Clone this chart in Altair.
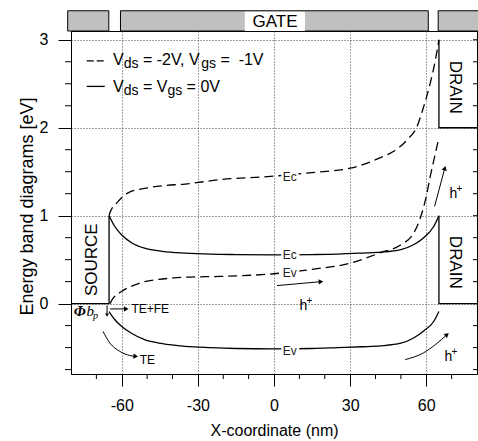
import altair as alt
import pandas as pd

# ---------------- values ----------------
# conduction / valence band edges (eV) vs position (nm)
ec0_x = [-65, -62.8, -60, -56, -51, -44, -35, -25, -15, 0, 15, 25, 35, 42, 50, 55, 59, 63, 65]
ec0_y = [1.0, 0.88, 0.78, 0.69, 0.63, 0.595, 0.575, 0.563, 0.558, 0.555, 0.558, 0.563, 0.575, 0.585, 0.615, 0.67, 0.75, 0.88, 1.0]
ev0_x = [-65, -62.8, -60, -56, -51, -44, -35, -25, -15, 0, 15, 25, 35, 42, 50, 55, 59, 63, 65]
ev0_y = [-0.09, -0.18, -0.26, -0.34, -0.41, -0.455, -0.485, -0.50, -0.51, -0.515, -0.51, -0.50, -0.49, -0.48, -0.45, -0.39, -0.31, -0.2, -0.09]
ec1_x = [-65, -64.7, -61.5, -57.5, -51, -44, -35, -21, 0, 15, 30, 42, 47, 52.4, 56.3, 59, 61.6, 63.6, 65]
ec1_y = [1.0, 1.03, 1.16, 1.26, 1.31, 1.34, 1.36, 1.41, 1.45, 1.49, 1.54, 1.66, 1.73, 1.86, 2.01, 2.24, 2.51, 2.77, 3.0]
ev1_x = [-64.5, -64.1, -60, -56, -51, -44, -35, -21, 0, 15, 30, 42, 50, 55, 58.5, 60, 61.6, 63.6, 65]
ev1_y = [0.0, 0.03, 0.14, 0.2, 0.25, 0.28, 0.30, 0.31, 0.34, 0.39, 0.46, 0.58, 0.67, 0.80, 1.05, 1.22, 1.45, 1.71, 1.89]

# contact outlines (source / drain)
struct_id = ["src", "src", "src", "dt", "dt", "dt", "db", "db", "db"]
struct_x = [-80, -65, -65, 65, 65, 80, 65, 65, 80]
struct_y = [0, 0, 1, 3, 2, 2, 1, 0, 0]

# gray electrode boxes above the plot (source contact, gate, drain contact)
box_x0 = [-81.3, -60.5, 64.7]
box_x1 = [-65.1, 60.8, 82]

# axis ticks
x_major = [-60, -30, 0, 30, 60]
x_minor = [-70, -50, -40, -20, -10, 10, 20, 40, 50, 70]
y_major = [0, 1, 2, 3]
y_minor = [-0.75, -0.5, -0.25, 0.25, 0.5, 0.75, 1.25, 1.5, 1.75, 2.25, 2.5, 2.75]

# arrows (polyline points) and their head angles
arrows = {
    "mid": ([1.2, 18.5], [0.205, 0.25], 355),
    "ur": ([63.3, 67.3], [1.106, 1.54], 285),
    "lr": ([51.7, 58.9, 63.6, 68.2], [-0.636, -0.56, -0.466, -0.352], 320),
    "te": ([-67.4, -64.7, -60.8, -56.8, -54.5], [-0.315, -0.447, -0.542, -0.59, -0.6], 5),
    "tefe": ([-64.7, -58.2], [-0.06, -0.06], 0),
}

FONT = "Liberation Sans"
W, H = 406, 343
XS = alt.Scale(domain=[-80, 80], nice=False, zero=False)
YS = alt.Scale(domain=[-0.8, 3.1], nice=False, zero=False)


def X(f="x"):
    return alt.X(f"{f}:Q", scale=XS)


def Y(f="y"):
    return alt.Y(f"{f}:Q", scale=YS)


def txt(x, y, s, size=12, align="center", baseline="middle", angle=0, dx=0, dy=0,
        font=FONT, style="normal", weight="normal", color="black", halo=False):
    df = pd.DataFrame({"x": [x], "y": [y], "t": [s]})
    kw = dict(align=align, baseline=baseline, dx=dx, dy=dy, font=font, fontSize=size,
              fontStyle=style, fontWeight=weight)
    if angle:
        kw["angle"] = angle
    if halo:
        kw.update(fill="white", stroke="white", strokeWidth=5)
    else:
        kw.update(fill=color)
    return alt.Chart(df).mark_text(**kw).encode(x=X(), y=Y(), text="t:N")


layers = []

# ---- axes carrier ----
axis_df = pd.DataFrame({"x": [0], "y": [0]})
x_axis = alt.Axis(
    values=x_major, labelExpr="'' + datum.value",
    tickSize=12, grid=True, gridDash=[1, 2], gridColor="#444", gridWidth=1,
    tickColor="black", domainColor="black", labelColor="black",
    labelFont=FONT, labelFontSize=16, labelPadding=11,
    title="X-coordinate (nm)", titleFont=FONT, titleFontSize=16, titleFontWeight="normal",
    titleColor="black", titleX=203, titleY=56, titleBaseline="middle", titleAlign="center",
)
y_axis = alt.Axis(
    values=y_major, labelExpr="'' + datum.value",
    tickSize=13, grid=True, gridDash=[1, 2], gridColor="#444", gridWidth=1,
    tickColor="black", domainColor="black", labelColor="black",
    labelFont=FONT, labelFontSize=16, labelPadding=10,
    title="Energy band diagrams [eV]", titleFont=FONT, titleFontSize=18, titleFontWeight="normal",
    titleColor="black", titleX=-44, titleY=175, titleAngle=270, titleBaseline="middle",
    titleAlign="center",
)
layers.append(alt.Chart(axis_df).mark_point(opacity=0).encode(
    x=alt.X("x:Q", scale=XS, axis=x_axis), y=alt.Y("y:Q", scale=YS, axis=y_axis)))

# ---- minor ticks (outside) and inner ticks on the right edge ----
ym_df = pd.DataFrame({"y": y_minor})
layers.append(alt.Chart(ym_df).mark_rule(color="black", strokeWidth=1).encode(
    y=Y(), x=alt.value(-6), x2=alt.value(0)))
xm_df = pd.DataFrame({"x": x_minor})
layers.append(alt.Chart(xm_df).mark_rule(color="black", strokeWidth=1).encode(
    x=X(), y=alt.value(H), y2=alt.value(H + 5)))
yr_df = pd.DataFrame({"y": y_minor + y_major})
layers.append(alt.Chart(yr_df).mark_rule(color="black", strokeWidth=1).encode(
    y=Y(), x=alt.value(W - 4), x2=alt.value(W)))

# ---- electrode boxes ----
box_df = pd.DataFrame({"x": box_x0, "x2": box_x1, "y": [3.1] * 3, "y2": [3.33] * 3})
layers.append(alt.Chart(box_df).mark_rect(fill="#c0c0c0", stroke="black", strokeWidth=1).encode(
    x=X(), x2="x2:Q", y=Y(), y2="y2:Q"))
gate_df = pd.DataFrame({"x": [-11.5], "x2": [12.2], "y": [3.1], "y2": [3.32]})
layers.append(alt.Chart(gate_df).mark_rect(fill="white").encode(x=X(), x2="x2:Q", y=Y(), y2="y2:Q"))
layers.append(txt(0.4, 3.205, "GATE", size=17))

# ---- contact outlines ----
st_df = pd.DataFrame({"id": struct_id, "x": struct_x, "y": struct_y, "o": list(range(len(struct_x)))})
layers.append(alt.Chart(st_df).mark_line(color="black", strokeWidth=1.3).encode(
    x=X(), y=Y(), detail="id:N", order="o:Q"))

# ---- band curves ----
def band_df(xs, ys, name):
    return pd.DataFrame({"x": xs, "y": ys, "band": name})

solid_df = pd.concat([band_df(ec0_x, ec0_y, "Ec0"), band_df(ev0_x, ev0_y, "Ev0")])
dash_df = pd.concat([band_df(ec1_x, ec1_y, "Ec1"), band_df(ev1_x, ev1_y, "Ev1")])
layers.append(alt.Chart(solid_df).mark_line(color="black", strokeWidth=1.3, interpolate="monotone").encode(
    x=X(), y=Y(), detail="band:N"))
layers.append(alt.Chart(dash_df).mark_line(color="black", strokeWidth=1.3, interpolate="monotone",
                                           strokeDash=[9, 5]).encode(x=X(), y=Y(), detail="band:N"))

# ---- band labels ----
for (lx, ly, s) in [(6.2, 1.44, "Ec"), (6.2, 0.55, "Ec"), (6.2, 0.35, "Ev"), (6.2, -0.54, "Ev")]:
    layers.append(txt(lx, ly, s, size=12, halo=True))
    layers.append(txt(lx, ly, s, size=12, color="#222"))

# ---- arrows ----
for name, (ax, ay, ang) in arrows.items():
    adf = pd.DataFrame({"x": ax, "y": ay})
    layers.append(alt.Chart(adf).mark_line(color="black", strokeWidth=1, interpolate="monotone").encode(
        x=X(), y=Y()))
    hdf = pd.DataFrame({"x": [ax[-1]], "y": [ay[-1]], "a": [ang]})
    layers.append(alt.Chart(hdf).mark_point(shape="triangle-right", filled=True, size=28, color="black",
                                            opacity=1).encode(x=X(), y=Y(), angle=alt.Angle("a:Q", scale=None)))
# small down arrow under the source edge
phi_df = pd.DataFrame({"x": [-65.8, -65.8], "y": [-0.02, -0.13]})
layers.append(alt.Chart(phi_df).mark_line(color="black", strokeWidth=1).encode(x=X(), y=Y()))
layers.append(alt.Chart(pd.DataFrame({"x": [-65.8], "y": [-0.13], "a": [90]})).mark_point(
    shape="triangle-right", filled=True, size=14, color="black", opacity=1).encode(
    x=X(), y=Y(), angle=alt.Angle("a:Q", scale=None)))

# ---- region / carrier texts ----
layers.append(txt(-71.7, 0.5, "SOURCE", size=17, angle=270))
layers.append(txt(71.5, 2.46, "DRAIN", size=17, angle=90))
layers.append(txt(71.5, 0.47, "DRAIN", size=17, angle=90))
layers.append(txt(-56.2, -0.06, "TE+FE", size=12, align="left"))
layers.append(txt(-52.9, -0.64, "TE", size=12, align="left"))
for (hx, hy) in [(11.6, -0.03), (70.7, 1.25), (68.7, -0.61)]:
    layers.append(txt(hx, hy, "h", size=14))
    layers.append(txt(hx, hy, "+", size=10, dx=6, dy=-5))
layers.append(txt(-76.6, -0.085, "\u03a6", size=15, font="Liberation Serif", style="italic", weight="bold"))
layers.append(txt(-72.4, -0.085, "b", size=15, font="Liberation Serif", style="italic"))
layers.append(txt(-70.3, -0.14, "p", size=10, font="Liberation Serif", style="italic"))

# ---- legend ----
leg_dash = pd.DataFrame({"x": [-73.8, -66.7], "y": [2.76, 2.76]})
leg_solid = pd.DataFrame({"x": [-73.8, -66.7], "y": [2.47, 2.47]})
layers.append(alt.Chart(leg_dash).mark_line(color="black", strokeWidth=1.3, strokeDash=[7, 3]).encode(x=X(), y=Y()))
layers.append(alt.Chart(leg_solid).mark_line(color="black", strokeWidth=1.3).encode(x=X(), y=Y()))
LX = -63.45
for (y0, pieces) in [
    (2.713, [("V", 0, 16, 0), ("ds", 10.7, 14, 3), ("= -2V, V", 29.9, 16, 0), ("gs", 88.2, 14, 3),
             ("=\u00a0 -1V", 107.4, 16, 0)]),
    (2.41, [("V", 0, 16, 0), ("ds", 10.7, 14, 3), ("= V", 29.9, 16, 0), ("gs", 54.4, 14, 3),
            ("= 0V", 73.6, 16, 0)]),
]:
    for (s, ddx, sz, ddy) in pieces:
        layers.append(txt(LX, y0, s, size=sz, align="left", baseline="alphabetic", dx=ddx, dy=ddy))

chart = alt.layer(*layers).properties(
    width=W, height=H,
    autosize=alt.AutoSizeParams(type="none"),
    padding={"left": 71, "top": 31, "right": 1, "bottom": 67},
).configure(background="white").configure_view(stroke="black", strokeWidth=1)

chart.save("out.html", embed_options={"renderer": "svg", "actions": False})
